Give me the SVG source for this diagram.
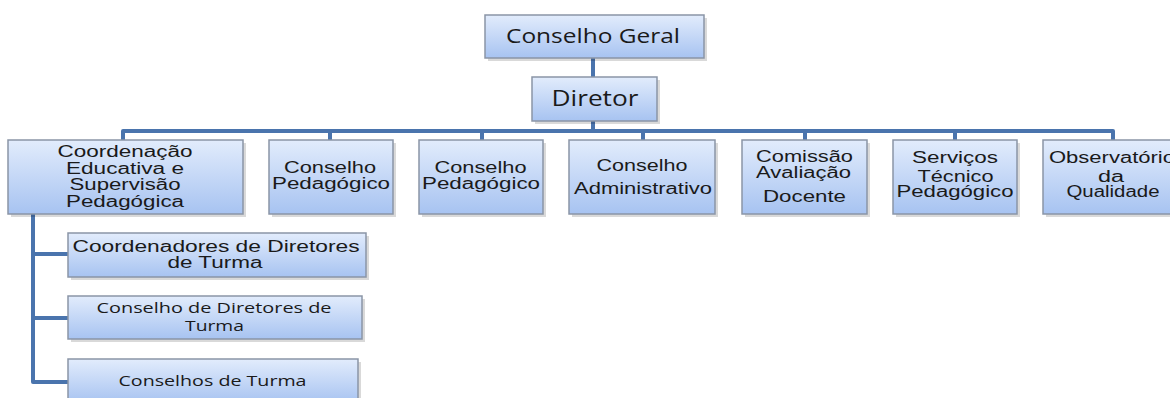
<svg xmlns="http://www.w3.org/2000/svg" width="1170" height="398" viewBox="0 0 1170 398">
<defs>
<linearGradient id="g" x1="0" y1="0" x2="0" y2="1">
<stop offset="0" stop-color="#e2ecfc"/>
<stop offset="1" stop-color="#a7c3f1"/>
</linearGradient>
</defs>
<style>
.box{fill:url(#g);stroke:#8a95a6;stroke-width:1.5}
.sh{fill:#000;opacity:0.15}
.t{font-family:"Liberation Sans",Arial,sans-serif;font-size:16px;fill:#1a1a1a;text-anchor:middle}
.o{font-family:"Open Sans","Liberation Sans",sans-serif;fill:#1a1a1a;text-anchor:middle}
.c{fill:none;stroke:#4a74ad;stroke-width:4;stroke-linejoin:round}
</style>
<rect width="1170" height="398" fill="#ffffff"/>
<g id="connectors">
<path class="c" d="M593 58V77M593 121V131M123 140V131H1113V140M330 131V140M482 131V140M643 131V140M805 131V140M955 131V140"/>
<path class="c" d="M33 214V382H68M33 254H68M33 318H68"/>
</g>
<g id="conselho-geral">
<rect class="sh" x="488" y="18" width="219" height="43"/>
<rect class="box" x="485" y="15" width="219" height="43"/>
<text class="o" x="593" y="43" font-size="20" textLength="174" lengthAdjust="spacingAndGlyphs">Conselho Geral</text>
</g>
<g id="diretor">
<rect class="sh" x="535" y="80" width="125" height="44"/>
<rect class="box" x="532" y="77" width="125" height="44"/>
<text class="o" x="595" y="106" font-size="21" textLength="87" lengthAdjust="spacingAndGlyphs">Diretor</text>
</g>
<g id="coordenacao">
<rect class="sh" x="11" y="143" width="235" height="74"/>
<rect class="box" x="8" y="140" width="235" height="74"/>
<text class="t" x="125" y="157" textLength="135" lengthAdjust="spacingAndGlyphs">Coordenação</text>
<text class="t" x="125" y="174" textLength="118" lengthAdjust="spacingAndGlyphs">Educativa  e</text>
<text class="t" x="125" y="190" textLength="111" lengthAdjust="spacingAndGlyphs">Supervisão</text>
<text class="t" x="125" y="207" textLength="118" lengthAdjust="spacingAndGlyphs">Pedagógica</text>
</g>
<g id="conselho-pedagogico-1">
<rect class="sh" x="272" y="143" width="124" height="74"/>
<rect class="box" x="269" y="140" width="124" height="74"/>
<text class="t" x="330" y="173" textLength="92" lengthAdjust="spacingAndGlyphs">Conselho</text>
<text class="t" x="331" y="189" textLength="118" lengthAdjust="spacingAndGlyphs">Pedagógico</text>
</g>
<g id="conselho-pedagogico-2">
<rect class="sh" x="422" y="143" width="124" height="74"/>
<rect class="box" x="419" y="140" width="124" height="74"/>
<text class="t" x="480.5" y="173" textLength="92" lengthAdjust="spacingAndGlyphs">Conselho</text>
<text class="t" x="481" y="189" textLength="118" lengthAdjust="spacingAndGlyphs">Pedagógico</text>
</g>
<g id="conselho-administrativo">
<rect class="sh" x="572" y="143" width="146" height="74"/>
<rect class="box" x="569" y="140" width="146" height="74"/>
<text class="t" x="642" y="171" textLength="91" lengthAdjust="spacingAndGlyphs">Conselho</text>
<text class="t" x="643" y="194" textLength="138" lengthAdjust="spacingAndGlyphs">Administrativo</text>
</g>
<g id="comissao">
<rect class="sh" x="745" y="143" width="125" height="74"/>
<rect class="box" x="742" y="140" width="125" height="74"/>
<text class="t" x="804.5" y="162" textLength="97" lengthAdjust="spacingAndGlyphs">Comissão</text>
<text class="t" x="803.5" y="178" textLength="95" lengthAdjust="spacingAndGlyphs">Avaliação</text>
<text class="t" x="804.5" y="202" textLength="83" lengthAdjust="spacingAndGlyphs">Docente</text>
</g>
<g id="servicos">
<rect class="sh" x="896" y="143" width="124" height="74"/>
<rect class="box" x="893" y="140" width="124" height="74"/>
<text class="t" x="955" y="163" textLength="86" lengthAdjust="spacingAndGlyphs">Serviços</text>
<text class="t" x="955.5" y="182" textLength="76" lengthAdjust="spacingAndGlyphs">Técnico</text>
<text class="t" x="955" y="197" textLength="117" lengthAdjust="spacingAndGlyphs">Pedagógico</text>
</g>
<g id="observatorio">
<rect class="sh" x="1046" y="143" width="138" height="74"/>
<rect class="box" x="1043" y="140" width="138" height="74"/>
<text class="t" x="1112" y="163" textLength="126" lengthAdjust="spacingAndGlyphs">Observatório</text>
<text class="t" x="1111" y="182" textLength="26" lengthAdjust="spacingAndGlyphs">da</text>
<text class="t" x="1113" y="197" textLength="93" lengthAdjust="spacingAndGlyphs">Qualidade</text>
</g>
<g id="coordenadores-dt">
<rect class="sh" x="71" y="236" width="298" height="44"/>
<rect class="box" x="68" y="233" width="298" height="44"/>
<text class="t" x="216" y="252" textLength="287" lengthAdjust="spacingAndGlyphs">Coordenadores  de Diretores</text>
<text class="t" x="215" y="268" textLength="95" lengthAdjust="spacingAndGlyphs">de Turma</text>
</g>
<g id="conselho-dt">
<rect class="sh" x="71" y="299" width="294" height="43"/>
<rect class="box" x="68" y="296" width="294" height="43"/>
<text class="o" x="214" y="313" font-size="15" textLength="235" lengthAdjust="spacingAndGlyphs">Conselho de Diretores de</text>
<text class="o" x="214.5" y="331" font-size="15" textLength="59" lengthAdjust="spacingAndGlyphs">Turma</text>
</g>
<g id="conselhos-turma">
<rect class="sh" x="71" y="362" width="290" height="44"/>
<rect class="box" x="68" y="359" width="290" height="44"/>
<text class="o" x="212.5" y="386" font-size="15" textLength="188" lengthAdjust="spacingAndGlyphs">Conselhos de Turma</text>
</g>
</svg>
